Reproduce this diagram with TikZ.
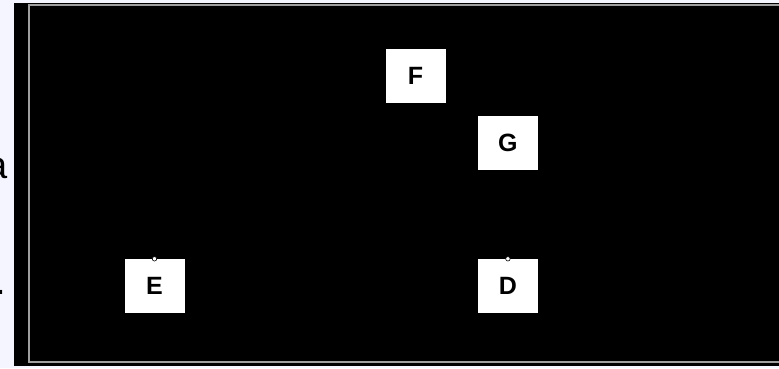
\documentclass[tikz,border=0pt]{standalone}
\usepackage{fontspec}
\setmainfont{Liberation Sans}
\usetikzlibrary{positioning}
\tikzset{
  lettbox/.style={rectangle, fill=white, minimum width=60pt, minimum height=54pt,
                  inner sep=0pt, font=\fontsize{25}{30}\selectfont\bfseries},
  pinmark/.style={circle, draw=black, fill=white, line width=0.6pt,
                  minimum size=4.5pt, inner sep=0pt},
  frameline/.style={draw=gray!75, line width=1.2pt},
}
\begin{document}
\begin{tikzpicture}[x=1pt, y=-1pt]
  \useasboundingbox (0,0) rectangle (779,368);

  % slide background behind the screen
  \fill[blue!4] (0,0) rectangle (779,368);
  \fill[black] (14,3) rectangle (779,366);
  \node[anchor=east, inner sep=0pt, font=\fontsize{38}{40}\selectfont] (lbla) at (8,168) {a};
  \node[anchor=east, inner sep=0pt, font=\fontsize{38}{40}\selectfont] (lbldot) at (6,292) {.};

  % inner frame
  \draw[frameline] (785,5) -- (29,5) -- (29,362) -- (785,362);

  % letter boxes
  \node[lettbox] (E) at (154.5,286) {E};
  \node[lettbox, right=293pt of E] (D) {D};
  \node[lettbox, above=89pt of D] (G) {G};
  \node[lettbox, above left=12pt and 32pt of G] (F) {F};

  \foreach \b in {E, D}
    \node[pinmark] at (\b.north) {};

\end{tikzpicture}
\end{document}
